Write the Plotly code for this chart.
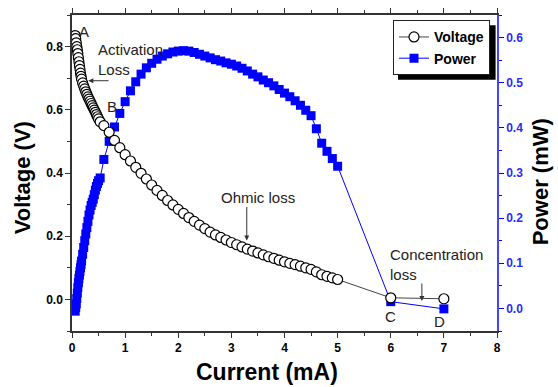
import plotly.graph_objects as go

# ---- data ----
current = [0.06, 0.07, 0.08, 0.09, 0.10, 0.11, 0.12, 0.13, 0.14, 0.15, 0.16, 0.17, 0.18,
           0.20, 0.22, 0.24, 0.26, 0.28, 0.30, 0.32, 0.34, 0.36, 0.38, 0.40, 0.42, 0.44,
           0.46, 0.48, 0.50, 0.53,
           0.6, 0.7, 0.8, 0.9, 1.0, 1.1, 1.2, 1.3, 1.4, 1.5, 1.6, 1.7, 1.8, 1.9, 2.0,
           2.1, 2.2, 2.3, 2.4, 2.5, 2.6, 2.7, 2.8, 2.9, 3.0, 3.1, 3.2, 3.3, 3.4, 3.5,
           3.6, 3.7, 3.8, 3.9, 4.0, 4.1, 4.2, 4.3, 4.4, 4.5, 4.6, 4.7, 4.8, 4.9, 5.0,
           6.0, 7.0]

voltage = [0.835, 0.825, 0.812, 0.800, 0.790, 0.778, 0.765, 0.752, 0.740, 0.728, 0.716,
           0.706, 0.697, 0.685, 0.675, 0.666, 0.657, 0.649, 0.641, 0.634, 0.627, 0.620,
           0.613, 0.606, 0.599, 0.592, 0.585, 0.578, 0.571, 0.562,
           0.550, 0.529, 0.503, 0.480, 0.458, 0.438, 0.418, 0.399, 0.381, 0.362, 0.345,
           0.329, 0.313, 0.299, 0.285, 0.272, 0.259, 0.247, 0.235, 0.224, 0.213, 0.204,
           0.196, 0.188, 0.180, 0.173, 0.166, 0.159, 0.153, 0.147, 0.141, 0.135, 0.130,
           0.124, 0.119, 0.114, 0.110, 0.105, 0.100, 0.095, 0.087, 0.078, 0.073, 0.068,
           0.063,
           0.005, 0.002]

power = [-0.006, 0.002, 0.010, 0.022, 0.034, 0.046, 0.057, 0.066, 0.074, 0.082, 0.090,
         0.097, 0.105, 0.120, 0.135, 0.150, 0.165, 0.179, 0.193, 0.207, 0.218, 0.228,
         0.235, 0.242, 0.252, 0.262, 0.270, 0.277, 0.283, 0.289,
         0.330, 0.370, 0.402, 0.432, 0.458, 0.482, 0.502, 0.519, 0.533, 0.543, 0.552,
         0.559, 0.564, 0.568, 0.570, 0.571, 0.570, 0.567, 0.563, 0.559, 0.555, 0.551,
         0.548, 0.544, 0.541, 0.537, 0.532, 0.526, 0.519, 0.513, 0.506, 0.500, 0.493,
         0.485, 0.477, 0.469, 0.460, 0.450, 0.439, 0.427, 0.398, 0.366, 0.348, 0.332,
         0.315,
         0.015, -0.001]

FONT = "Liberation Sans, Arial, sans-serif"
BLUE = "#0000ff"
TXT = "#222222"

fig = go.Figure()

# Power on primary axis (right side), Voltage on overlaying axis (left side) so circles draw on top
fig.add_trace(go.Scatter(
    x=current, y=power, name="Power", mode="lines+markers", yaxis="y", legendrank=2,
    line=dict(color=BLUE, width=1),
    marker=dict(symbol="square", size=9, color=BLUE, line=dict(width=0)),
))
fig.add_trace(go.Scatter(
    x=current, y=voltage, name="Voltage", mode="lines+markers", yaxis="y2", legendrank=1,
    line=dict(color="#444444", width=1),
    marker=dict(symbol="circle", size=10, color="white", line=dict(color="black", width=1.2)),
))

tickfont = dict(family=FONT, size=12, color="black", weight="bold")

fig.update_layout(
    width=558, height=387,
    margin=dict(l=72, r=61, t=15, b=56),
    paper_bgcolor="white", plot_bgcolor="white",
    font=dict(family=FONT, color="black"),
    showlegend=True,
    legend=dict(x=0.7553, y=0.983, xanchor="left", yanchor="top",
                bgcolor="white", bordercolor="#222222", borderwidth=1,
                font=dict(family=FONT, size=14, color="black", weight="bold"),
                tracegroupgap=0, itemwidth=30),
    xaxis=dict(range=[0, 8], dtick=1, tick0=0, ticks="outside", ticklen=5, tickwidth=1.2,
               tickcolor="#333333", showline=True, linecolor="#333333", linewidth=1.5,
               mirror="ticks", showgrid=False, zeroline=False, tickfont=tickfont,
               automargin=False,
               minor=dict(dtick=0.5, ticks="outside", ticklen=3, tickcolor="#333333")),
    yaxis=dict(range=[-0.05, 0.65], dtick=0.1, tick0=0, tickformat=".1f", side="right",
               ticks="outside", ticklen=5, tickwidth=1.2, tickcolor=BLUE, automargin=False,
               showline=True, linecolor="#4444ff", linewidth=1.5, showgrid=False, zeroline=False,
               tickfont=dict(family=FONT, size=12, color="#2a2aff", weight="bold"),
               minor=dict(dtick=0.05, ticks="outside", ticklen=3, tickcolor=BLUE)),
    yaxis2=dict(range=[-0.1, 0.9], dtick=0.2, tick0=0, tickformat=".1f", side="left",
                overlaying="y", ticks="outside", ticklen=5, tickwidth=1.2, tickcolor="#333333",
                showline=True, linecolor="#333333", linewidth=1.5, showgrid=False, zeroline=False,
                tickfont=tickfont, automargin=False,
                minor=dict(dtick=0.1, ticks="outside", ticklen=3, tickcolor="#333333")),
)

# legend drop shadow
fig.add_shape(type="rect", xref="paper", yref="paper", x0=0.7671, x1=0.9967,
              y0=0.7953, y1=0.9674, fillcolor="black", line=dict(width=0), layer="above")

# axis titles
title_font = dict(family=FONT, size=22, color="black", weight="bold")
fig.add_annotation(text="Voltage (V)", xref="paper", yref="paper", x=-0.1176, y=0.4832,
                   textangle=-90, showarrow=False, xanchor="center", yanchor="middle",
                   font=title_font)
fig.add_annotation(text="Power (mW)", xref="paper", yref="paper", x=1.1012, y=0.4706,
                   textangle=-90, showarrow=False, xanchor="center", yanchor="middle",
                   font=title_font)
fig.add_annotation(text="Current (mA)", xref="paper", yref="paper", x=0.4588, y=-0.1307,
                   showarrow=False, xanchor="center", yanchor="middle",
                   font=dict(family=FONT, size=23, color="black", weight="bold"))

ann_font = dict(family=FONT, size=15, color=TXT)
labels = [
    ("A", 0.23, 0.847, "center"),
    ("Activation<br>Loss", 0.452, 0.76, "left"),
    ("B", 0.753, 0.61, "center"),
    ("Ohmic loss", 3.50, 0.322, "center"),
    ("Concentration<br>loss", 5.957, 0.11, "left"),
    ("C", 5.99, -0.054, "center"),
    ("D", 6.91, -0.069, "center"),
]
for txt, x, y, xa in labels:
    fig.add_annotation(x=x, y=y, xref="x", yref="y2", text=txt, showarrow=False,
                       xanchor=xa, yanchor="middle", align="left", font=ann_font)

arrows = [
    (0.307, 0.692, 0.716, 0.692),
    (3.29, 0.186, 3.29, 0.297),
    (6.586, -0.005, 6.586, 0.055),
]
for x, y, ax, ay in arrows:
    fig.add_annotation(x=x, y=y, xref="x", yref="y2", ax=ax, ay=ay, axref="x", ayref="y2",
                       text="", showarrow=True, arrowhead=2, arrowsize=1, arrowwidth=1,
                       arrowcolor="#333333")

fig.write_html("out.html", config={"displayModeBar": False},
               post_script="document.body.style.margin='0';document.body.style.overflow='hidden';")
